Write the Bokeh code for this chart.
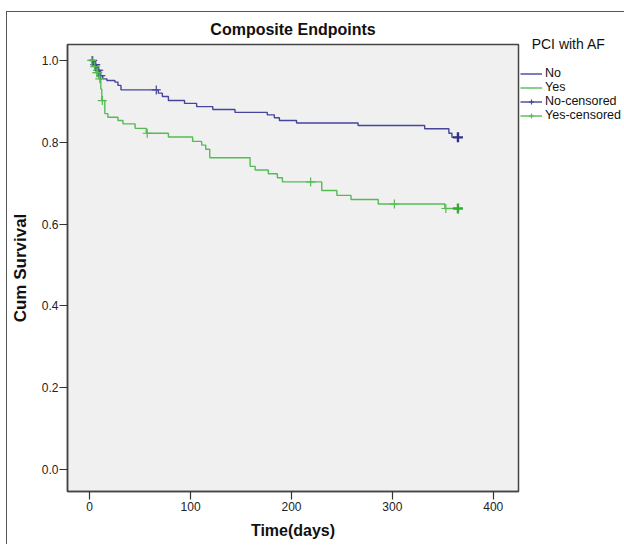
import numpy as np
from bokeh.plotting import figure
from bokeh.models import Range1d, FixedTicker, Legend, LegendItem, PrintfTickFormatter
from bokeh.embed import file_html
from bokeh.resources import INLINE

chart_title = "Composite Endpoints"
x_label = "Time(days)"
y_label = "Cum Survival"
legend_title = "PCI with AF"
x_ticks = [0, 100, 200, 300, 400]
y_ticks = [0.0, 0.2, 0.4, 0.6, 0.8, 1.0]

# Group "No"
no_times = [0, 4, 7, 10, 13, 17, 25, 28, 31, 68, 72, 78, 94, 106, 122, 144, 176, 183, 188, 205, 266, 332, 356, 359]
no_surv = [1.0, 0.990, 0.976, 0.963, 0.955, 0.951, 0.947, 0.939, 0.928, 0.920, 0.912, 0.902, 0.895, 0.887,
           0.880, 0.873, 0.867, 0.860, 0.853, 0.847, 0.841, 0.833, 0.822, 0.812]
no_censored = [3, 5, 6, 8, 9, 11, 66]
no_end = 365

# Group "Yes"
yes_times = [0, 3, 6, 9, 11, 12, 15, 18, 28, 33, 45, 56, 78, 102, 111, 115, 119, 159, 164, 177, 186, 191,
             230, 245, 259, 286, 352]
yes_surv = [1.0, 0.985, 0.970, 0.955, 0.930, 0.902, 0.870, 0.861, 0.853, 0.845, 0.834, 0.822, 0.813, 0.802,
            0.793, 0.783, 0.762, 0.741, 0.732, 0.723, 0.713, 0.703, 0.682, 0.670, 0.660, 0.649, 0.638]
yes_censored = [2, 5, 7, 8, 10, 12.5, 57, 219, 302, 353]
yes_end = 365

BLUE = "#45459c"
GREEN = "#55bb55"
FONT = "Liberation Sans"
FRAME_W = 451
FRAME_H = 447


def surv_at(times, surv, t):
    idx = np.searchsorted(np.array(times), t, side="right") - 1
    return float(np.array(surv)[max(idx, 0)])


p = figure(frame_width=FRAME_W, frame_height=FRAME_H, output_backend="svg", toolbar_location=None,
           x_range=Range1d(-22, 425), y_range=Range1d(-0.054, 1.039),
           min_border_left=58, min_border_right=4, min_border_top=32, min_border_bottom=53)
p.styles = {"margin-top": "11px", "margin-left": "6px",
            "border-top": "1px solid #555", "border-left": "1px solid #555"}

p.title.text = chart_title
p.title.align = "center"
p.title.text_font = FONT
p.title.text_font_size = "16px"
p.title.text_font_style = "bold"
p.title.text_color = "#111111"
p.title.standoff = 13

p.background_fill_color = "#f0f0f0"
p.border_fill_color = "white"
p.outline_line_color = "#444444"
p.outline_line_width = 1.5
p.outline_line_alpha = 1.0
p.grid.visible = False

for ax in (p.xaxis[0], p.yaxis[0]):
    ax.major_tick_out = 8
    ax.major_tick_in = 0
    ax.minor_tick_out = 0
    ax.minor_tick_in = 0
    ax.axis_line_color = "#444444"
    ax.axis_line_width = 1.5
    ax.major_tick_line_color = "#333333"
    ax.major_tick_line_width = 1.2
    ax.major_label_text_font = FONT
    ax.major_label_text_font_size = "12px"
    ax.major_label_text_color = "#222222"
    ax.axis_label_text_font = FONT
    ax.axis_label_text_font_size = "16px"
    ax.axis_label_text_font_style = "bold"
    ax.axis_label_text_color = "#111111"

p.xaxis.ticker = FixedTicker(ticks=x_ticks)
p.xaxis.formatter = PrintfTickFormatter(format="%d")
p.xaxis.axis_label = x_label
p.xaxis.major_label_standoff = 2
p.xaxis.axis_label_standoff = 8

p.yaxis.ticker = FixedTicker(ticks=y_ticks)
p.yaxis.formatter = PrintfTickFormatter(format="%.1f")
p.yaxis.axis_label = y_label
p.yaxis.axis_label_text_font_size = "17px"
p.yaxis.major_label_standoff = 1
p.yaxis.axis_label_standoff = 9

# step curves extended to end of follow-up
r_no = p.step(no_times + [no_end], no_surv + [no_surv[-1]], mode="after", line_color=BLUE, line_width=1.4)
r_yes = p.step(yes_times + [yes_end], yes_surv + [yes_surv[-1]], mode="after", line_color=GREEN, line_width=1.4)

no_cy = [surv_at(no_times, no_surv, t) for t in no_censored]
yes_cy = [surv_at(yes_times, yes_surv, t) for t in yes_censored]
r_noc = p.scatter(no_censored, no_cy, marker="cross", size=9, line_color=BLUE, line_width=1.2)
r_yesc = p.scatter(yes_censored, yes_cy, marker="cross", size=9, line_color=GREEN, line_width=1.2)
p.scatter([no_end], [no_surv[-1]], marker="cross", size=10, line_color="#303085", line_width=2.4)
p.scatter([yes_end], [yes_surv[-1]], marker="cross", size=10, line_color="#33aa33", line_width=2.4)

# single-point line renderers (draw nothing in the plot): horizontal stroke of censored legend icons
r_noc_line = p.line(x=[no_end], y=[no_surv[-1]], line_color=BLUE, line_width=1.4)
r_yesc_line = p.line(x=[yes_end], y=[yes_surv[-1]], line_color=GREEN, line_width=1.4)

legend = Legend(items=[LegendItem(label="No", renderers=[r_no]),
                       LegendItem(label="Yes", renderers=[r_yes]),
                       LegendItem(label="No-censored", renderers=[r_noc_line, r_noc]),
                       LegendItem(label="Yes-censored", renderers=[r_yesc_line, r_yesc])],
                location=(2, 369),
                title="\u00a0\u00a0\u00a0" + legend_title)
legend.background_fill_alpha = 0
legend.border_line_alpha = 0
legend.padding = 0
legend.margin = 2
legend.spacing = -1
legend.label_height = 13
legend.glyph_height = 13
legend.glyph_width = 22
legend.label_standoff = 3
legend.label_text_font = FONT
legend.label_text_font_size = "12.5px"
legend.label_text_color = "#111111"
legend.title_text_font = FONT
legend.title_text_font_size = "14px"
legend.title_text_font_style = "normal"
legend.title_text_color = "#111111"
legend.title_standoff = 14
p.add_layout(legend, "right")

open("out.html", "w").write(file_html(p, INLINE))
